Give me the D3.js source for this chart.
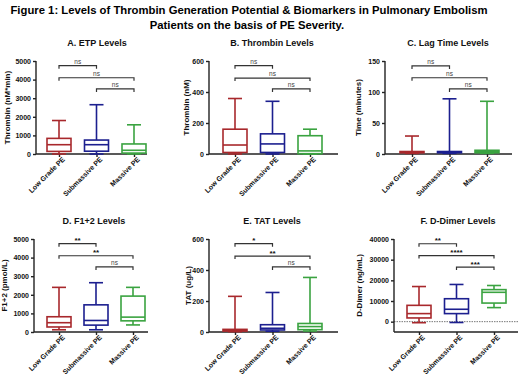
<!DOCTYPE html>
<html>
<head>
<meta charset="utf-8">
<script src="https://cdn.jsdelivr.net/npm/d3@7"></script>
<style>
	body { margin: 0; background: #fff; }
	svg { display: block; font-family: "Liberation Sans", Arial, sans-serif; }
</style>
</head>
<body>
<div id="chart"></div>
<script>
"use strict";

// Groups (x categories), same for every panel
const groups = ["Low Grade PE", "Submassive PE", "Massive PE"];
const groupColors = ["#a8282c", "#1c1f8f", "#3aa340"];

// Box stats per group: [min, q1, median, q3, max]
const etpStats = [[0, 140, 500, 840, 1800], [0, 150, 500, 750, 2650], [0, 50, 200, 540, 1570]];
const thrombinStats = [[0, 10, 58, 160, 358], [0, 10, 65, 130, 340], [0, 2, 20, 118, 160]];
const lagStats = [[1, 2, 3, 4, 29], [1, 2, 3, 4, 89], [1, 2, 4, 6, 85]];
const f12Stats = [[120, 270, 500, 820, 2400], [120, 370, 620, 1460, 2650], [380, 600, 800, 1930, 2400]];
const tatStats = [[2, 6, 10, 17, 230], [5, 13, 24, 47, 255], [6, 15, 35, 55, 352]];
const ddimerStats = [[-500, 1800, 3900, 7900, 17000], [-400, 3900, 6000, 11100, 18000], [6800, 9000, 14200, 15500, 17500]];

// Significance brackets: pairs of groups, label and height (in data units)
const sigPairs = [[0, 1], [0, 2], [1, 2]];
const etpSig = ["ns", "ns", "ns"];
const etpSigLevels = [4750, 4100, 3500];
const thrombinSig = ["ns", "ns", "ns"];
const thrombinSigLevels = [570, 490, 420];
const lagSig = ["ns", "ns", "ns"];
const lagSigLevels = [142, 123, 105];
const f12Sig = ["**", "**", "ns"];
const f12SigLevels = [4750, 4100, 3500];
const tatSig = ["*", "**", "ns"];
const tatSigLevels = [570, 490, 420];
const ddimerSig = ["**", "****", "***"];
const ddimerSigLevels = [37700, 32000, 26400];

// Axis ticks
const etpTicks = [0, 1000, 2000, 3000, 4000, 5000];
const thrombinTicks = [0, 200, 400, 600];
const lagTicks = [0, 50, 100, 150];
const f12Ticks = [0, 1000, 2000, 3000, 4000, 5000];
const tatTicks = [0, 200, 400, 600];
const ddimerTicks = [0, 10000, 20000, 30000, 40000];

const width = 520;
const height = 380;

const svg = d3.select("#chart")
	.append("svg")
	.attr("width", width)
	.attr("height", height);

// Figure title - font size fitted so line 1 spans ~478px like the original
const title1 = svg.append("text")
	.attr("x", 249)
	.attr("y", 14)
	.attr("text-anchor", "middle")
	.style("font-size", "12px")
	.style("font-weight", "bold")
	.text("Figure 1: Levels of Thrombin Generation Potential & Biomarkers in Pulmonary Embolism");
const titleSize = Math.min(13, 12 * 478 / title1.node().getComputedTextLength());
title1.style("font-size", titleSize + "px");
svg.append("text")
	.attr("x", 247)
	.attr("y", 29)
	.attr("text-anchor", "middle")
	.style("font-size", titleSize + "px")
	.style("font-weight", "bold")
	.text("Patients on the basis of PE Severity.");

function drawPanel(p) {
	const g = svg.append("g");

	const y = d3.scaleLinear()
		.domain(p.domain)
		.range([p.bottom, p.top]);

	const x = d3.scalePoint()
		.domain(groups)
		.range([p.c0, p.c2]);

	// panel title
	g.append("text")
		.attr("x", p.titleX)
		.attr("y", p.top - 15)
		.attr("text-anchor", "middle")
		.style("font-size", "9px")
		.style("font-weight", "bold")
		.style("fill", "#111")
		.text(p.title);

	// zero line for D-Dimer
	if (p.zeroLine) {
		g.append("line")
			.attr("x1", p.left).attr("x2", p.right)
			.attr("y1", y(0)).attr("y2", y(0))
			.style("stroke", "#777")
			.style("stroke-width", 1)
			.style("stroke-dasharray", "1.5,1");
	}

	// y axis
	const yAxis = g.append("g")
		.attr("transform", `translate(${p.left},0)`)
		.call(d3.axisLeft(y).tickValues(p.ticks).tickFormat(d3.format("d")).tickSize(3).tickPadding(2).tickSizeOuter(0));
	yAxis.select(".domain").attr("d", `M0,${p.bottom}V${y(p.ticks[p.ticks.length - 1])}`);

	// x axis
	const xAxis = g.append("g")
		.attr("transform", `translate(0,${p.bottom})`)
		.call(d3.axisBottom(x).tickSize(3).tickSizeOuter(0));
	xAxis.select(".domain").attr("d", `M${p.left},0H${p.right}`);
	xAxis.selectAll("text")
		.attr("text-anchor", "end")
		.attr("transform", "translate(2,2) rotate(-45)")
		.attr("dy", "0.35em")
		.attr("y", 3)
		.attr("x", 0);

	[yAxis, xAxis].forEach(a => {
		a.selectAll(".domain, line").style("stroke", "#222").style("stroke-width", 1.4);
		a.selectAll("text").style("font-size", "7px").style("font-weight", "bold").style("fill", "#111");
	});

	// y axis label
	g.append("text")
		.attr("transform", `translate(${p.labelX},${(p.top + p.bottom) / 2}) rotate(-90)`)
		.attr("text-anchor", "middle")
		.style("font-size", "8px")
		.style("font-weight", "bold")
		.style("fill", "#111")
		.text(p.yLabel);

	// boxes
	const boxW = 24;
	const capW = 14;
	p.stats.forEach((s, i) => {
		const cx = x(groups[i]);
		const col = groupColors[i];
		const bg = g.append("g").style("stroke", col).style("stroke-width", 1.6).style("fill", "none");
		// whiskers
		bg.append("line").attr("x1", cx).attr("x2", cx).attr("y1", y(s[3])).attr("y2", y(s[4]));
		bg.append("line").attr("x1", cx).attr("x2", cx).attr("y1", y(s[1])).attr("y2", y(s[0]));
		bg.append("line").attr("x1", cx - capW / 2).attr("x2", cx + capW / 2).attr("y1", y(s[4])).attr("y2", y(s[4]));
		bg.append("line").attr("x1", cx - capW / 2).attr("x2", cx + capW / 2).attr("y1", y(s[0])).attr("y2", y(s[0]));
		// box
		bg.append("rect")
			.attr("x", cx - boxW / 2)
			.attr("y", y(s[3]))
			.attr("width", boxW)
			.attr("height", Math.max(0.5, y(s[1]) - y(s[3])))
			.style("fill", "#fff");
		// median
		bg.append("line").attr("x1", cx - boxW / 2).attr("x2", cx + boxW / 2).attr("y1", y(s[2])).attr("y2", y(s[2]));
	});

	// significance brackets
	sigPairs.forEach((pair, i) => {
		const x1 = x(groups[pair[0]]);
		const x2 = x(groups[pair[1]]);
		const yy = y(p.sigLevels[i]);
		g.append("path")
			.attr("d", `M${x1},${yy + 3}V${yy}H${x2}V${yy + 3}`)
			.style("fill", "none")
			.style("stroke", "#333")
			.style("stroke-width", 1.2);
		const isNs = p.sig[i] === "ns";
		g.append("text")
			.attr("x", (x1 + x2) / 2)
			.attr("y", isNs ? yy - 2 : yy - 0.5)
			.attr("text-anchor", "middle")
			.style("font-size", isNs ? "6.5px" : "8px")
			.style("font-weight", isNs ? "normal" : "bold")
			.style("fill", isNs ? "#444" : "#111")
			.text(p.sig[i]);
	});
}

const panels = [
	{ title: "A. ETP Levels", yLabel: "Thrombin (nM*min)", stats: etpStats, sig: etpSig, sigLevels: etpSigLevels,
		domain: [0, 5000], ticks: etpTicks, left: 36, right: 147, c0: 59, c2: 134, top: 61, bottom: 154, labelX: 10, titleX: 97 },
	{ title: "B. Thrombin Levels", yLabel: "Thrombin (nM)", stats: thrombinStats, sig: thrombinSig, sigLevels: thrombinSigLevels,
		domain: [0, 600], ticks: thrombinTicks, left: 209, right: 338, c0: 235, c2: 310, top: 61, bottom: 154, labelX: 189, titleX: 272 },
	{ title: "C. Lag Time Levels", yLabel: "Time (minutes)", stats: lagStats, sig: lagSig, sigLevels: lagSigLevels,
		domain: [0, 150], ticks: lagTicks, left: 385, right: 512, c0: 412, c2: 487, top: 61, bottom: 154, labelX: 361, titleX: 448 },
	{ title: "D. F1+2 Levels", yLabel: "F1+2 (pmol/L)", stats: f12Stats, sig: f12Sig, sigLevels: f12SigLevels,
		domain: [0, 5000], ticks: f12Ticks, left: 34, right: 148, c0: 59, c2: 133, top: 239, bottom: 332, labelX: 7, titleX: 94 },
	{ title: "E. TAT Levels", yLabel: "TAT (ug/L)", stats: tatStats, sig: tatSig, sigLevels: tatSigLevels,
		domain: [0, 600], ticks: tatTicks, left: 209, right: 338, c0: 235, c2: 310, top: 239, bottom: 332, labelX: 191, titleX: 272 },
	{ title: "F. D-Dimer Levels", yLabel: "D-Dimer (ng/mL)", stats: ddimerStats, sig: ddimerSig, sigLevels: ddimerSigLevels,
		domain: [-5000, 40000], ticks: ddimerTicks, left: 394, right: 518, c0: 419, c2: 494, top: 239, bottom: 332, labelX: 362, titleX: 458, zeroLine: true }
];

panels.forEach(drawPanel);
</script>
</body>
</html>
